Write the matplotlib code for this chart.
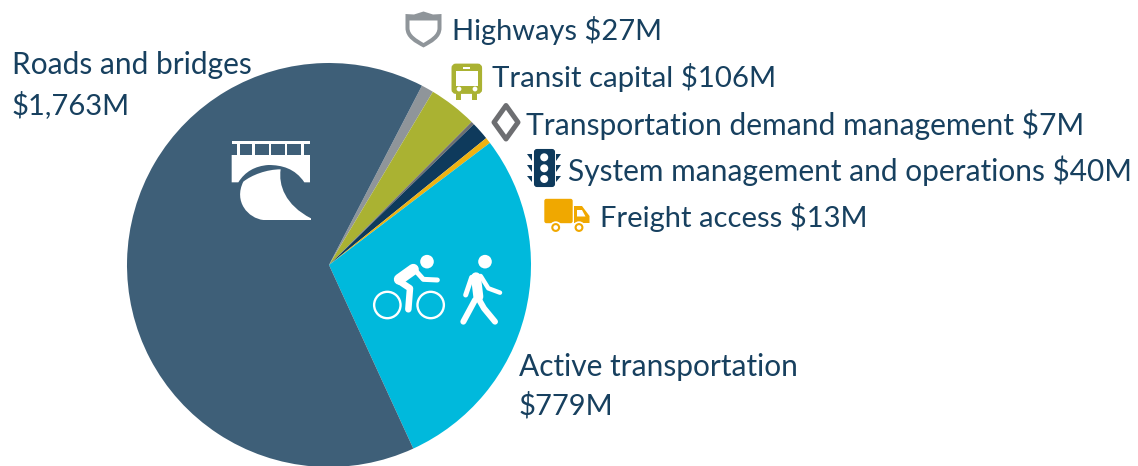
import matplotlib
matplotlib.use("Agg")
import matplotlib.pyplot as plt
from matplotlib.patches import Circle, PathPatch, Rectangle, FancyBboxPatch
from matplotlib.path import Path

plt.rcParams['font.family'] = ['Lato', 'DejaVu Sans']

categories = ["Highways", "Transit capital", "Transportation demand management",
              "System management and operations", "Freight access",
              "Active transportation", "Roads and bridges"]
values = [27, 106, 7, 40, 13, 779, 1763]
colors = ["#8f959a", "#aab232", "#6d6e71", "#0e3a5c", "#eeb211", "#00b9dc", "#3e5f78"]
value_labels = ["$27M", "$106M", "$7M", "$40M", "$13M", "$779M", "$1,763M"]

W, H = 1138, 466
TXT = "#17405f"
fig = plt.figure(figsize=(W / 100, H / 100), dpi=100)
ax = fig.add_axes([0, 0, 1, 1])

ax.pie(values, colors=colors, startangle=62.6, counterclock=False,
       center=(329, H - 265), radius=202, frame=True,
       wedgeprops=dict(linewidth=0))
ax.set_xlim(0, W)
ax.set_ylim(0, H)
ax.set_aspect("auto")
ax.axis("off")

# labels
label_pos = {
    "Highways": (452, 40, 20.9), "Transit capital": (492, 87, 21.2),
    "Transportation demand management": (526, 135.5, 21.6),
    "System management and operations": (568, 181, 21.55), "Freight access": (600, 227, 21.0),
}
for c, v in zip(categories, value_labels):
    if c in label_pos:
        x, y, fs = label_pos[c]
        ax.text(x, H - y, f"{c} {v}", fontsize=fs, color=TXT, va="baseline", ha="left")
FS = 21.5
ax.text(12, H - 74, "Roads and bridges", fontsize=FS, color=TXT, va="baseline")
ax.text(12, H - 114, value_labels[6], fontsize=21, color=TXT, va="baseline")
ax.text(519, H - 376, "Active transportation", fontsize=FS, color=TXT, va="baseline")
ax.text(519, H - 415, value_labels[5], fontsize=21, color=TXT, va="baseline")


# icon helpers (pixel coordinates, y down)
def shape(verts, codes=None, fc="white", ec="none", lw=0, **kw):
    pts = [(x, H - y) for x, y in verts]
    if codes is None:
        codes = [Path.MOVETO] + [Path.LINETO] * (len(pts) - 2) + [Path.CLOSEPOLY]
    ax.add_patch(PathPatch(Path(pts, codes), fc=fc, ec=ec, lw=lw, **kw))


def circ(x, y, r, fc="white", ec="none", lw=0):
    ax.add_patch(Circle((x, H - y), r, fc=fc, ec=ec, lw=lw))


def stroke(pts, w, color="white"):
    ax.plot([p[0] for p in pts], [H - p[1] for p in pts], color=color,
            lw=w * 0.72, solid_capstyle="round", solid_joinstyle="round")


M, L, C, Z = Path.MOVETO, Path.LINETO, Path.CURVE4, Path.CLOSEPOLY

# highway shield
gray = "#8f959a"
shape([(405.5, 14), (414, 14.5), (423.5, 11.5), (433, 14.5), (441.5, 14), (441.5, 28),
       (441.5, 38), (432, 43), (423.5, 47.5), (415, 43), (405.5, 38), (405.5, 28),
       (405.5, 14), (405.5, 14)],
      [M, L, L, L, L, L, C, C, C, C, C, C, L, Z], fc=gray)
shape([(409.5, 20.5), (437.5, 20.5), (437.5, 28), (437.5, 35), (430, 39), (423.5, 43),
       (417, 39), (409.5, 35), (409.5, 28), (409.5, 20.5), (409.5, 20.5)],
      [M, L, L, C, C, C, C, C, C, L, Z], fc="white")

# bus
olive = "#aab232"
ax.add_patch(FancyBboxPatch((452.9, H - 92.5), 27.8, 27.5, boxstyle="round,pad=0,rounding_size=3",
                            fc=olive, ec=olive, lw=2))
ax.add_patch(Rectangle((456, H - 100), 5.5, 9, fc=olive, ec="none"))
ax.add_patch(Rectangle((472, H - 100), 5.5, 9, fc=olive, ec="none"))
ax.add_patch(Rectangle((455.7, H - 85.7), 22, 14.7, fc="white", ec="none"))
ax.add_patch(Rectangle((463, H - 69), 7, 1.6, fc="white", ec="none"))
circ(459, 89, 2.4)
circ(475, 89, 2.4)

# diamond
shape([(506, 105.5), (518, 122.3), (506, 139), (494, 122.3), (506, 105.5)],
      fc="white", ec="#6d6e71", lw=3.6, joinstyle="round")

# traffic light
navy = "#0e3a5c"
ax.add_patch(FancyBboxPatch((535, H - 186), 19, 36, boxstyle="round,pad=0,rounding_size=2",
                            fc=navy, ec=navy, lw=1.5))
for cy in (157.3, 168.3, 179):
    circ(544.2, cy, 4)
for top in (154, 165, 175.5):
    shape([(527.5, top), (532.5, top), (532.5, top + 6.5), (527.5, top)], fc=navy)
    shape([(561, top), (556, top), (556, top + 6.5), (561, top)], fc=navy)

# truck
orange = "#f0a800"
ax.add_patch(FancyBboxPatch((545, H - 222.5), 27, 23, boxstyle="round,pad=0,rounding_size=1.5",
                            fc=orange, ec=orange, lw=1))
shape([(574, 206), (582, 206), (589.5, 216), (589.5, 223), (574, 223), (574, 206)], fc=orange)
shape([(577, 210), (582, 210), (585.5, 216.5), (577, 216.5), (577, 210)], fc="white")
for wx in (555.7, 579):
    circ(wx, 227.5, 6.2)
    circ(wx, 227.5, 3.4, fc="white", ec=orange, lw=1.5)


# bridge (coordinates from a 3x crop at 210,120)
def bz(x, y):
    return (210 + x / 3, 120 + y / 3)


shape([bz(65, 63), bz(300, 63), bz(300, 73), bz(65, 73), bz(65, 63)])
for px in (85, 130, 180, 228, 278):
    shape([bz(px - 4, 70), bz(px + 4, 70), bz(px + 4, 108), bz(px - 4, 108), bz(px - 4, 70)])
shape([bz(65, 105), bz(300, 105), bz(300, 187), bz(283, 187),
       bz(255, 145), bz(215, 135), bz(175, 135),
       bz(135, 138), bz(105, 155), bz(85, 187), bz(65, 187), bz(65, 105)],
      [M, L, L, L, C, C, C, C, C, C, L, Z])
shape([bz(100, 185), bz(125, 165), bz(170, 148), bz(212, 148),
       bz(205, 195), bz(225, 255), bz(303, 295), bz(303, 300), bz(160, 300),
       bz(115, 295), bz(70, 245), bz(100, 185), bz(100, 185)],
      [M, C, C, C, C, C, C, L, L, C, C, C, Z])


# cyclist and walker (coordinates from a 3x crop at 360,240)
def pz(x, y):
    return (360 + x / 3, 240 + y / 3)


for cx in (82, 212):
    c = pz(cx, 195)
    circ(c[0], c[1], 13.2, fc="none", ec="white", lw=1.7)
circ(*pz(201, 65), 6.8)
stroke([pz(118, 118), pz(160, 88)], 11)
stroke([pz(120, 125), pz(150, 145), pz(145, 208)], 6.5)
stroke([pz(165, 90), pz(190, 118), pz(232, 120)], 5)
circ(*pz(375, 65), 6.8)
stroke([pz(348, 112), pz(355, 170)], 10)
stroke([pz(335, 112), pz(317, 165)], 5)
stroke([pz(362, 108), pz(385, 145), pz(420, 158)], 4.5)
stroke([pz(345, 180), pz(310, 245)], 6)
stroke([pz(352, 170), pz(372, 205), pz(405, 245)], 6)

fig.savefig("out.png", dpi=100)
